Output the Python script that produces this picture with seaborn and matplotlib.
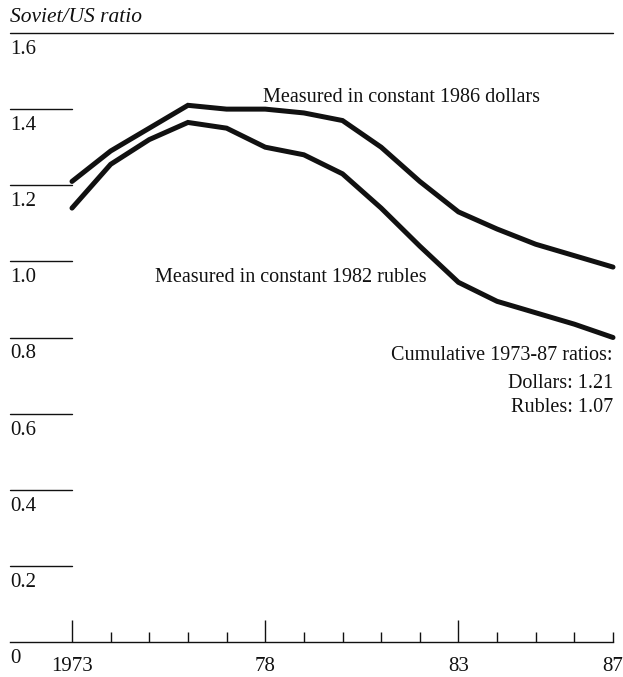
import numpy as np
import pandas as pd
import seaborn as sns
import matplotlib.pyplot as plt

YEARS   = list(range(1973, 1988))
DOLLARS = [1.21, 1.29, 1.35, 1.41, 1.40, 1.40, 1.39, 1.37, 1.30, 1.21, 1.13, 1.085, 1.045, 1.015, 0.985]
RUBLES  = [1.14, 1.255, 1.32, 1.365, 1.35, 1.30, 1.28, 1.23, 1.14, 1.04, 0.945, 0.895, 0.865, 0.835, 0.80]
YTICKS  = [0.2, 0.4, 0.6, 0.8, 1.0, 1.2, 1.4, 1.6]
XMAJOR  = [1973, 1978, 1983]
XLABELS = {1973: "1973", 1978: "78", 1983: "83", 1987: "87"}

df = pd.DataFrame({
    "year": YEARS * 2,
    "ratio": DOLLARS + RUBLES,
    "series": ["dollars"] * len(YEARS) + ["rubles"] * len(YEARS),
})

sns.set_style("white")
plt.rcParams["font.family"] = ["Liberation Serif", "DejaVu Serif"]
INK = "#111111"
FS = 14.5

fig = plt.figure(figsize=(6.23, 6.77), dpi=100)
ax = fig.add_axes([10 / 623, 35 / 677, 603 / 623, 609 / 677])

sns.lineplot(data=df, x="year", y="ratio", units="series", estimator=None,
             color=INK, lw=3.6, legend=False, ax=ax)
for l in ax.lines:
    l.set_solid_joinstyle("miter")
    l.set_clip_on(False)

x0 = 1973 - 62 / 38.64
ax.set_xlim(x0, 1987)
ax.set_ylim(0, 1.6)
for s in ["left", "right", "top"]:
    ax.spines[s].set_visible(False)
ax.spines["bottom"].set_color(INK)
ax.spines["bottom"].set_linewidth(1.0)

# short horizontal rules for y ticks, top rule full width
for v in YTICKS:
    xe = 1987 if v == 1.6 else 1973
    ax.plot([x0, xe], [v, v], color=INK, lw=1.0, clip_on=False)
for v in [0] + YTICKS:
    lab = "0" if v == 0 else f"{v:.1f}"
    ax.annotate(lab, (x0, v), xytext=(0, -5), textcoords="offset points",
                ha="left", va="top", fontsize=15, color=INK, annotation_clip=False)

ax.set_yticks([])
minor = [y for y in YEARS if y not in XMAJOR]
ax.set_xticks(XMAJOR, [XLABELS[y] for y in XMAJOR], fontsize=15, color=INK)
ax.set_xticks(minor, [XLABELS.get(y, "") for y in minor], minor=True,
              fontsize=15, color=INK)
ax.tick_params(axis="x", which="major", direction="in", length=15.5, width=1.0,
               color=INK, pad=11, bottom=True)
ax.tick_params(axis="x", which="minor", direction="in", length=7, width=1.0,
               color=INK, pad=11, bottom=True)
ax.set_xlabel("")
ax.set_ylabel("")

ax.text(1977.94, 1.43, "Measured in constant 1986 dollars", fontsize=FS,
        color=INK, va="center", ha="left")
ax.text(1975.15, 0.958, "Measured in constant 1982 rubles", fontsize=FS,
        color=INK, va="center", ha="left")
ax.text(1987, 0.752, "Cumulative 1973-87 ratios:", fontsize=FS, color=INK,
        va="center", ha="right")
ax.text(1987, 0.678, "Dollars: 1.21", fontsize=FS, color=INK, va="center", ha="right")
ax.text(1987, 0.615, "Rubles: 1.07", fontsize=FS, color=INK, va="center", ha="right")

fig.text(10 / 623, 1 - 17 / 677, "Soviet/US ratio", fontsize=15.5, style="italic",
         color=INK, ha="left", va="center")

fig.savefig("out.png", dpi=100)
